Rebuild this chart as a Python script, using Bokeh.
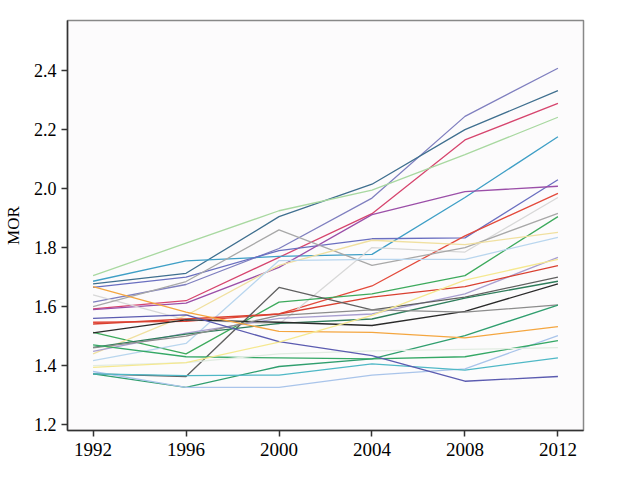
from bokeh.plotting import figure
from bokeh.models import FixedTicker, Range1d, NumeralTickFormatter
from bokeh.embed import file_html
from bokeh.resources import INLINE

years = [1992, 1996, 2000, 2004, 2008, 2012]
x_ticks = [1992, 1996, 2000, 2004, 2008, 2012]
y_ticks = [1.2, 1.4, 1.6, 1.8, 2.0, 2.2, 2.4]

s01 = [1.615, 1.675, 1.797, 1.968, 2.245, 2.408]
s02 = [1.677, 1.713, 1.905, 2.015, 2.200, 2.332]
s03 = [1.592, 1.620, 1.767, 1.915, 2.165, 2.289]
s04 = [1.705, 1.815, 1.925, 1.995, 2.115, 2.242]
s05 = [1.686, 1.755, 1.770, 1.777, 1.970, 2.176]
s06 = [1.665, 1.700, 1.790, 1.830, 1.833, 2.030]
s07 = [1.590, 1.612, 1.733, 1.912, 1.990, 2.008]
s08 = [1.547, 1.550, 1.575, 1.670, 1.840, 1.984]
s09 = [1.640, 1.555, 1.540, 1.800, 1.785, 1.970]
s10 = [1.600, 1.685, 1.860, 1.740, 1.800, 1.916]
s11 = [1.513, 1.440, 1.615, 1.643, 1.705, 1.905]
s12 = [1.440, 1.570, 1.740, 1.825, 1.810, 1.852]
s13 = [1.417, 1.475, 1.756, 1.760, 1.760, 1.835]
s14 = [1.448, 1.510, 1.560, 1.575, 1.643, 1.767]
s15 = [1.541, 1.558, 1.575, 1.632, 1.668, 1.739]
s16 = [1.372, 1.363, 1.665, 1.589, 1.632, 1.700]
s17 = [1.462, 1.507, 1.543, 1.558, 1.629, 1.686]
s18 = [1.511, 1.555, 1.547, 1.536, 1.584, 1.677]
s19 = [1.460, 1.500, 1.570, 1.589, 1.581, 1.606]
s20 = [1.372, 1.326, 1.397, 1.423, 1.502, 1.605]
s21 = [1.668, 1.581, 1.516, 1.513, 1.494, 1.532]
s22 = [1.380, 1.326, 1.326, 1.368, 1.389, 1.502]
s23 = [1.470, 1.430, 1.426, 1.423, 1.430, 1.485]
s24 = [1.400, 1.410, 1.440, 1.450, 1.455, 1.461]
s25 = [1.372, 1.366, 1.368, 1.406, 1.385, 1.426]
s26 = [1.560, 1.572, 1.481, 1.434, 1.347, 1.363]
s27 = [1.394, 1.410, 1.480, 1.570, 1.690, 1.760]

series = [s01, s02, s03, s04, s05, s06, s07, s08, s09, s10, s11, s12, s13, s14,
          s15, s16, s17, s18, s19, s20, s21, s22, s23, s24, s25, s26, s27]
colors = ["#7f7fbf", "#3f6f8f", "#d6456e", "#a8d8a0", "#3f9fc6", "#6a6fc0",
          "#9b4fa8", "#e34a3b", "#d8d8d8", "#a8a8a8", "#3daa5c", "#f0e0a0",
          "#b9d6ee", "#a99fd0", "#d94030", "#606060", "#2e7d5b", "#2a2a2a",
          "#8c8c8c", "#2f9e6e", "#f4a640", "#a9c4ea", "#35a866", "#e2ece2",
          "#4fb8c6", "#5b5bb0", "#f5e890"]

p = figure(width=610, height=475, output_backend="svg", toolbar_location=None,
           x_range=Range1d(1990.9, 2013.1), y_range=Range1d(1.18, 2.57),
           min_border_left=62, min_border_right=27, min_border_top=20,
           min_border_bottom=45)

for s, c in zip(series, colors):
    p.line(years, s, line_color=c, line_width=1.3)

p.background_fill_color = "#fcfbfc"
p.border_fill_color = "white"
p.outline_line_color = "#888888"
p.outline_line_width = 1.5
p.grid.visible = False

font = "Times New Roman"
p.xaxis.ticker = FixedTicker(ticks=x_ticks)
p.yaxis.ticker = FixedTicker(ticks=y_ticks)
p.yaxis.formatter = NumeralTickFormatter(format="0.0")
for ax in (p.xaxis[0], p.yaxis[0]):
    ax.axis_line_color = "#333333"
    ax.axis_line_width = 1.5
    ax.major_tick_line_color = "#333333"
    ax.major_tick_line_width = 1.5
    ax.major_tick_in = 0
    ax.major_tick_out = 6
    ax.minor_tick_line_color = None
    ax.major_label_text_font = font
    ax.major_label_text_font_size = "18px"
    ax.major_label_text_color = "black"
p.xaxis.major_label_standoff = 6
p.xaxis.major_label_text_font_size = "19px"
p.yaxis.axis_label = "MOR"
p.yaxis.axis_label_text_font = font
p.yaxis.axis_label_text_font_size = "17px"
p.yaxis.axis_label_text_font_style = "normal"
p.yaxis.axis_label_text_color = "black"
p.yaxis.axis_label_standoff = 8

open("out.html", "w").write(file_html(p, INLINE))
